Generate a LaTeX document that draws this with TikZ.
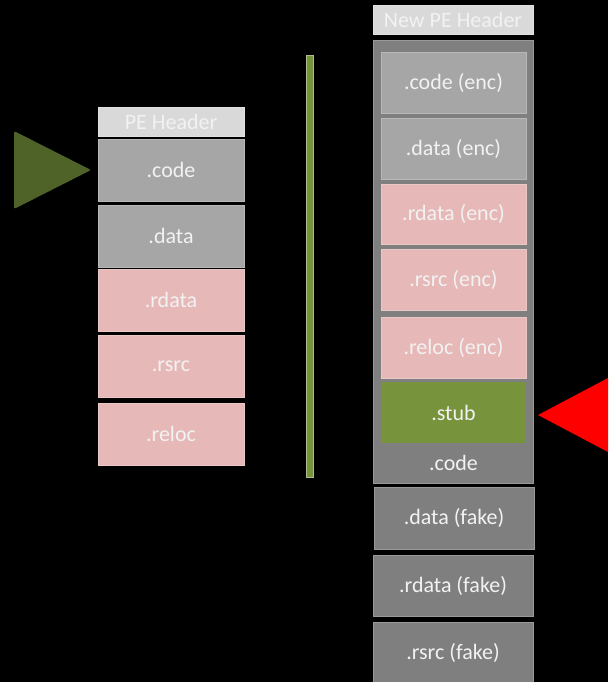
\documentclass[tikz,border=0pt]{standalone}
\usepackage{fontspec}
\setmainfont{Carlito}
\definecolor{hdr}{HTML}{D9D9D9}
\definecolor{lgray}{HTML}{A6A6A6}
\definecolor{dgray}{HTML}{7F7F7F}
\definecolor{pink}{HTML}{E6B9B8}
\definecolor{ogreen}{HTML}{77933C}
\definecolor{dgreen}{HTML}{4F6228}
\definecolor{txt}{HTML}{F2F2F2}
\begin{document}
\begin{tikzpicture}[x=1pt,y=-1pt,
  box/.style={draw=#1!80!white,line width=0.8pt,fill=#1,text=txt,inner sep=0pt,
     font=\fontsize{22}{26}\selectfont}]
\fill[black] (0,0) rectangle (608,682);
\useasboundingbox (0,0) rectangle (608,682);
% left column
\node[box=hdr,minimum width=146,minimum height=29] (peh) at (171,121.5) {PE Header};
\node[box=lgray,minimum width=146,minimum height=62] (lcode) at (171,170) {.code};
\node[box=lgray,minimum width=146,minimum height=62] (ldata) at (171,236) {.data};
\node[box=pink,minimum width=146,minimum height=62] (lrdata) at (171,300) {.rdata};
\node[box=pink,minimum width=146,minimum height=62] (lrsrc) at (171,366) {.rsrc};
\node[box=pink,minimum width=146,minimum height=62] (lreloc) at (171,434) {.reloc};
\fill[dgreen,rounded corners=2pt] (14,131) -- (91,170) -- (14,209) -- cycle;
% divider
\node[draw=ogreen!60!white,fill=ogreen,line width=0.8pt,minimum width=7,minimum height=422,inner sep=0pt] (div) at (309.5,266) {};
% right column
\node[box=hdr,minimum width=160,minimum height=29] (npeh) at (453,19.5) {New PE Header};
\node[box=dgray,minimum width=160,minimum height=443] (outer) at (453,261.5) {};
\node[box=lgray,minimum width=145,minimum height=61] (rcode) at (453.5,82.5) {.code (enc)};
\node[box=lgray,minimum width=145,minimum height=61] (rdata) at (453.5,148.5) {.data (enc)};
\node[box=pink,minimum width=145,minimum height=60] (rrdata) at (453.5,214) {.rdata (enc)};
\node[box=pink,minimum width=145,minimum height=61] (rrsrc) at (453.5,279.5) {.rsrc (enc)};
\node[box=pink,minimum width=145,minimum height=61] (rreloc) at (453.5,347.5) {.reloc (enc)};
\node[box=ogreen,draw=none,minimum width=145,minimum height=61] (stub) at (453.5,412.5) {.stub};
\node[text=txt,font=\fontsize{22}{26}\selectfont,inner sep=0pt] (rcodelbl) at (453.5,463) {.code};
\node[box=dgray,minimum width=160,minimum height=62] (fdata) at (454,518) {.data (fake)};
\node[box=dgray,minimum width=160,minimum height=61] (frdata) at (453,585.5) {.rdata (fake)};
\node[box=dgray,minimum width=160,minimum height=62] (frsrc) at (453,653) {.rsrc (fake)};
\fill[red] (538,415) -- (608,378) -- (608,452) -- cycle;
\end{tikzpicture}
\end{document}
